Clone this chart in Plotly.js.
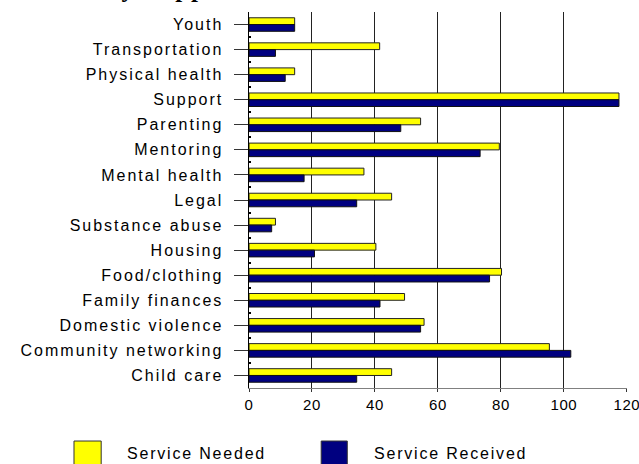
<!DOCTYPE html>
<html>
<head>
<meta charset="utf-8">
<script src="https://cdn.plot.ly/plotly-3.0.1.min.js"></script>
<style>
  html, body { margin: 0; padding: 0; background: #fff; }
  #chart { width: 639px; height: 464px; }
  .yaxislayer-above .ytick text { letter-spacing: 2px; }
  .xaxislayer-above .xtick text { letter-spacing: 0.6px; }
  .annotation-text { letter-spacing: 1.8px; }
  .annotation-text.ttl { letter-spacing: 0; }
</style>
</head>
<body>
<div id="chart"></div>
<script>
const categories = ["Youth", "Transportation", "Physical health", "Support", "Parenting",
  "Mentoring", "Mental health", "Legal", "Substance abuse", "Housing",
  "Food/clothing", "Family finances", "Domestic violence", "Community networking", "Child care"];
const serviceNeeded = [14.5, 41.5, 14.5, 117.5, 54.5, 79.5, 36.5, 45.3, 8.4, 40.3, 80.2, 49.4, 55.6, 95.4, 45.3];
const serviceReceived = [14.5, 8.4, 11.5, 117.5, 48.2, 73.4, 17.5, 34.2, 7.2, 20.8, 76.4, 41.6, 54.5, 102.2, 34.2];
const seriesNames = ["Service Needed", "Service Received"];
const seriesColors = ["#ffff00", "#000080"];
const xTicks = [0, 20, 40, 60, 80, 100, 120];
const titleText = "Family Support Services";

const traces = [
  {
    type: "bar", orientation: "h", name: seriesNames[0],
    y: categories, x: serviceNeeded,
    marker: { color: seriesColors[0], line: { color: "#222", width: 1 } },
    showlegend: false, hoverinfo: "x+y"
  },
  {
    type: "bar", orientation: "h", name: seriesNames[1],
    y: categories, x: serviceReceived,
    marker: { color: seriesColors[1], line: { color: "#111", width: 1 } },
    showlegend: false, hoverinfo: "x+y"
  },
  {
    type: "scatter", mode: "markers", x: [0], y: [0], yaxis: "y2",
    marker: { opacity: 0 }, showlegend: false, hoverinfo: "skip"
  }
];

const legendShapes = seriesColors.map((c, i) => ({
  type: "rect", xref: "paper", yref: "paper",
  x0: [-0.463, 0.191][i], x1: [-0.391, 0.260][i],
  y0: -0.141, y1: -0.215,
  fillcolor: c, line: { color: "#333", width: 1 }
}));

const legendAnnots = seriesNames.map((n, i) => ({
  text: n, xref: "paper", yref: "paper",
  x: [-0.328, 0.325][i], y: -0.173, xanchor: "left", yanchor: "middle",
  showarrow: false, font: { family: "Liberation Sans, Arial, sans-serif", size: 16, color: "#000" }
}));

const layout = {
  width: 639, height: 464,
  margin: { l: 249, r: 12, t: 12, b: 76, pad: 0 },
  paper_bgcolor: "#fff", plot_bgcolor: "#fff",
  barmode: "group", bargap: 0.46, bargroupgap: 0,
  showlegend: false,
  font: { family: "Liberation Sans, Arial, sans-serif", color: "#000" },
  xaxis: {
    range: [0, 120.05], tickvals: xTicks, ticktext: xTicks.map(String),
    showgrid: true, gridcolor: "#222", gridwidth: 1,
    showline: true, linecolor: "#808080", linewidth: 1,
    ticks: "outside", ticklen: 3, tickcolor: "#333",
    zeroline: false, tickfont: { size: 15, color: "#000" },
    ticklabeloverflow: "allow",
    fixedrange: true
  },
  yaxis: {
    type: "category", autorange: "reversed",
    showline: true, linecolor: "#000", linewidth: 1.5,
    ticks: "outside", ticklen: 14, tickcolor: "#333", tickwidth: 1,
    ticklabelstandoff: 7,
    showgrid: false, zeroline: false,
    tickfont: { size: 16, color: "#000" },
    fixedrange: true
  },
  yaxis2: {
    overlaying: "y", side: "left", range: [14.5, -0.5],
    tick0: -0.5, dtick: 1, ticks: "inside", ticklen: 2, tickcolor: "#000", tickwidth: 2,
    showticklabels: false, showgrid: false, zeroline: false, showline: false,
    fixedrange: true
  },
  shapes: legendShapes,
  annotations: [
    {
      text: "<b>" + titleText + "</b>", xref: "paper", yref: "paper",
      x: -0.532, y: 1, xanchor: "left", yanchor: "bottom", yshift: 8,
      showarrow: false, font: { family: "Liberation Serif, Times New Roman, serif", size: 25, color: "#000" }
    },
    ...legendAnnots
  ]
};

Plotly.newPlot("chart", traces, layout, { displayModeBar: false, staticPlot: true });
</script>
</body>
</html>
